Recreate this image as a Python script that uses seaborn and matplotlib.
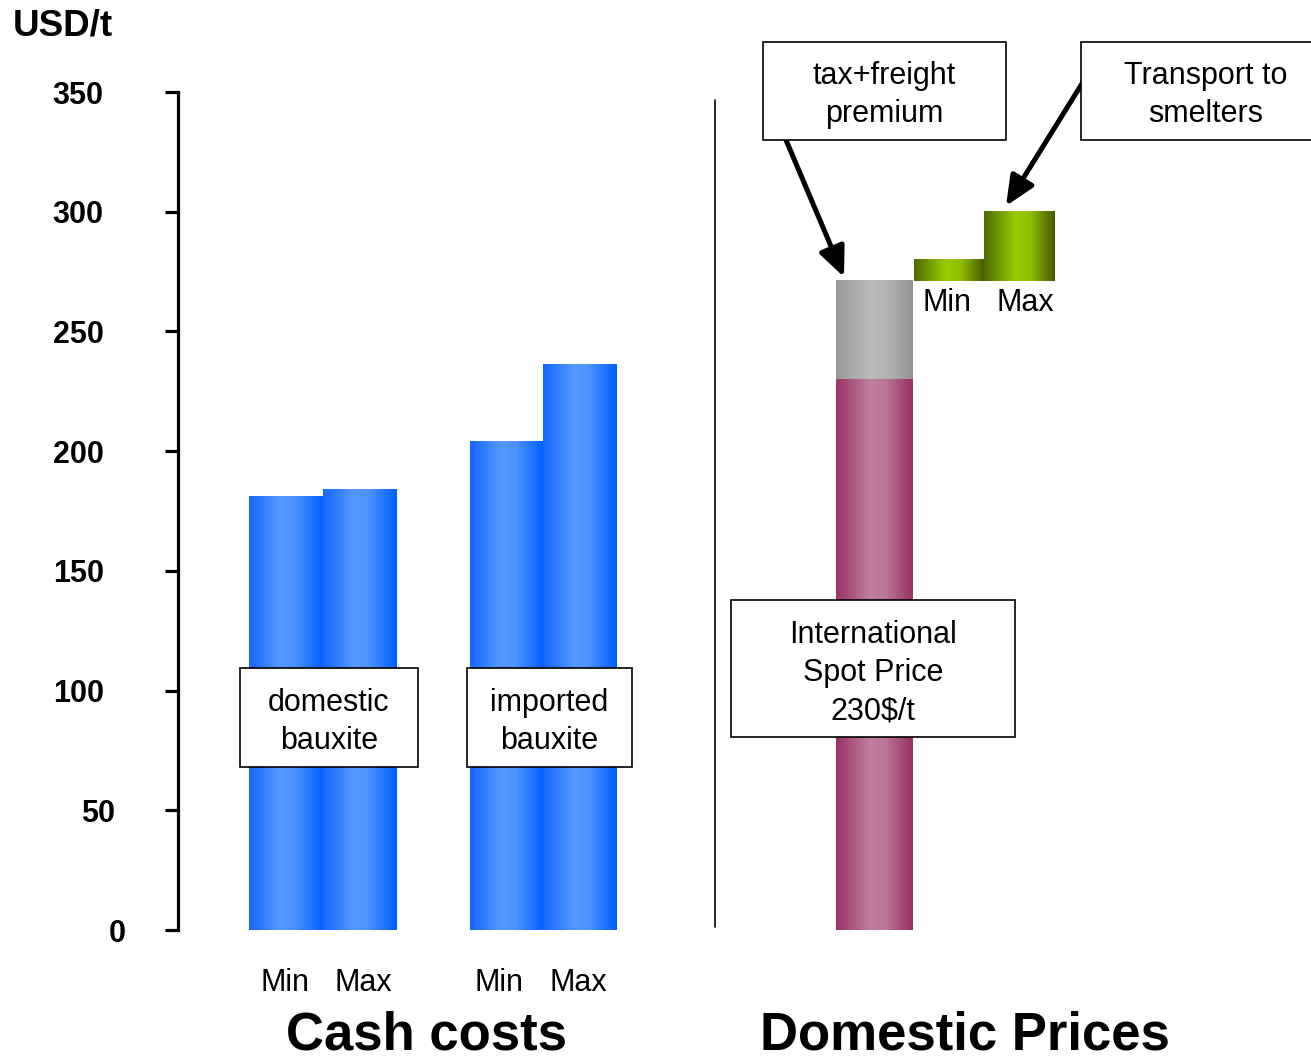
import numpy as np
import pandas as pd
import matplotlib
matplotlib.use("Agg")
import matplotlib.pyplot as plt
import matplotlib.transforms as mtransforms
from matplotlib.patches import Rectangle
from matplotlib.lines import Line2D
from matplotlib.colors import LinearSegmentedColormap
import seaborn as sns

# ---------------- data (USD per tonne) ----------------
cash_groups = ["domestic\nbauxite", "imported\nbauxite"]
cash_labels = ["Min", "Max", "Min", "Max"]
cash_values = [181, 184, 204, 236]
spot_price = 230            # international spot price
tax_freight = 41            # tax + freight premium stacked on the spot price
transport_labels = ["Min", "Max"]
transport_values = [9, 29]  # transport to smelters, on top of the premium
yticks = [0, 50, 100, 150, 200, 250, 300, 350]

# slot positions along the x axis
cash_pos = [0, 1, 3, 4]
spot_pos = [8]
transport_pos = [9.02, 9.98]

W, H, DPI = 1311, 1061, 100
sns.set_style("white")
plt.rcParams["font.family"] = ["Liberation Sans", "DejaVu Sans"]
plt.rcParams["text.color"] = "black"
plt.rcParams["ytick.color"] = "black"
plt.rcParams["ytick.labelcolor"] = "black"


def fx(x):
    return x / W


def fy(y):
    return 1 - y / H


fig = plt.figure(figsize=(W / DPI, H / DPI), dpi=DPI)
ax = fig.add_axes([fx(178), fy(930), (W - 178) / W, (930 - 92) / H])


def new_patches(start):
    return list(ax.patches[start:])


# cash cost bars
n0 = len(ax.patches)
sns.barplot(data=pd.DataFrame({"pos": cash_pos, "usd": cash_values}),
            x="pos", y="usd", native_scale=True, width=1, errorbar=None,
            color="#1a6aff", ax=ax)
cash_bars = new_patches(n0)

# international spot price
n0 = len(ax.patches)
sns.barplot(data=pd.DataFrame({"pos": spot_pos, "usd": [spot_price]}),
            x="pos", y="usd", native_scale=True, width=1.04, errorbar=None,
            color="#b06090", ax=ax)
spot_bars = new_patches(n0)

# tax + freight premium stacked above it
n0 = len(ax.patches)
sns.barplot(data=pd.DataFrame({"pos": spot_pos, "usd": [tax_freight]}),
            x="pos", y="usd", native_scale=True, width=1.04, errorbar=None,
            color="#aaaaaa", bottom=spot_price, ax=ax)
premium_bars = new_patches(n0)

# transport to smelters, floating above the premium
n0 = len(ax.patches)
sns.barplot(data=pd.DataFrame({"pos": transport_pos, "usd": transport_values}),
            x="pos", y="usd", native_scale=True, width=1, errorbar=None,
            color="#88bb00", bottom=spot_price + tax_freight, ax=ax)
transport_bars = new_patches(n0)


def shade(bars, stops):
    """Replace flat bar fills with a horizontal cylinder-like gradient."""
    cmap = LinearSegmentedColormap.from_list("shade", stops)
    grad = np.linspace(0, 1, 256)[None, :]
    for p in bars:
        x0, y0, w, h = p.get_x(), p.get_y(), p.get_width(), p.get_height()
        ax.imshow(grad, cmap=cmap, extent=[x0, x0 + w, y0, y0 + h],
                  aspect="auto", origin="lower", interpolation="bilinear",
                  zorder=p.get_zorder())
        p.set_facecolor("none")
        p.set_edgecolor("none")


shade(cash_bars, [(0.0, "#1466ff"), (0.42, "#5599ff"), (0.62, "#4d92ff"), (1.0, "#0060ff")])
shade(spot_bars, [(0.0, "#9a3366"), (0.45, "#c080a0"), (0.65, "#b97596"), (1.0, "#973062")])
shade(premium_bars, [(0.0, "#999999"), (0.45, "#bbbbbb"), (0.65, "#b3b3b3"), (1.0, "#959595")])
shade(transport_bars, [(0.0, "#4d6a00"), (0.45, "#99cc00"), (0.65, "#8fbf00"), (1.0, "#485a00")])

# axes styling
ax.set_xlim(-1.4694, 13.946)
ax.set_ylim(0, 350)
ax.set_xticks([])
ax.set_xlabel("")
ax.set_ylabel("")
ax.set_yticks(yticks)
ax.set_yticklabels([str(v) for v in yticks], fontsize=22, fontweight="bold",
                   color="black")
for side in ["top", "right", "bottom"]:
    ax.spines[side].set_visible(False)
ax.spines["left"].set_linewidth(2.3)
ax.spines["left"].set_color("black")
ax.tick_params(axis="y", direction="out", length=9.5, width=2.3,
               color="black", labelcolor="black", pad=44, left=True)
ax.set_facecolor("none")
ax.patch.set_visible(False)

# small per-label nudges of the short tick labels
offsets = {"50": 11, "0": 22}
for lab in ax.get_yticklabels():
    dx = offsets.get(lab.get_text(), 0)
    if dx:
        lab.set_transform(lab.get_transform() +
                          mtransforms.ScaledTranslation(dx / DPI, 0, fig.dpi_scale_trans))

# unit label
fig.text(fx(13), fy(35), "USD/t", ha="left", va="baseline",
         fontsize=26.5, fontweight="bold")

# separator between the two panels
fig.add_artist(Line2D([fx(715), fx(715)], [fy(100), fy(927)],
                      color="black", lw=1.2, transform=fig.transFigure))

# Min / Max labels under the cash cost bars
for lab, xp in zip(cash_labels, [285, 363, 499, 578]):
    fig.text(fx(xp), fy(991), lab, ha="center", va="baseline", fontsize=22)

# Min / Max labels under the transport bars
for lab, xp in zip(transport_labels, [947, 1025]):
    fig.text(fx(xp), fy(311), lab, ha="center", va="baseline", fontsize=22)

# panel titles
fig.text(fx(427), fy(1050), "Cash costs", ha="center", va="baseline",
         fontsize=38, fontweight="bold")
fig.text(fx(965), fy(1050), "Domestic Prices", ha="center", va="baseline",
         fontsize=38, fontweight="bold")


def box(x0, y0, x1, y1, lines, baselines):
    fig.add_artist(Rectangle((fx(x0), fy(y1)), (x1 - x0) / W, (y1 - y0) / H,
                             transform=fig.transFigure, facecolor="white",
                             edgecolor="black", lw=1.2, zorder=5))
    cx = (x0 + x1) / 2
    for s, b in zip(lines, baselines):
        fig.text(fx(cx), fy(b), s, ha="center", va="baseline",
                 fontsize=22, zorder=6)


box(240, 668, 418, 767, cash_groups[0].split("\n"), [711, 749])
box(467, 668, 632, 767, cash_groups[1].split("\n"), [711, 749])
box(731, 600, 1015, 737,
    ["International", "Spot Price", f"{spot_price}$/t"], [643, 681, 719])
box(763, 42, 1006, 140, ["tax+freight", "premium"], [84, 122])
box(1081, 42, 1330, 140, ["Transport to", "smelters"], [84, 122])

# callout arrows
arrow = dict(arrowstyle="-|>,head_length=0.9,head_width=0.4", lw=3.6,
             color="black", shrinkA=0, shrinkB=0, mutation_scale=20)
ax.annotate("", xy=(844, H - 277), xycoords="figure pixels",
            xytext=(786, H - 140), textcoords="figure pixels",
            arrowprops=arrow, annotation_clip=False)
ax.annotate("", xy=(1006, H - 206), xycoords="figure pixels",
            xytext=(1083, H - 82), textcoords="figure pixels",
            arrowprops=arrow, annotation_clip=False)

fig.savefig("out.png", dpi=DPI, facecolor="white")
